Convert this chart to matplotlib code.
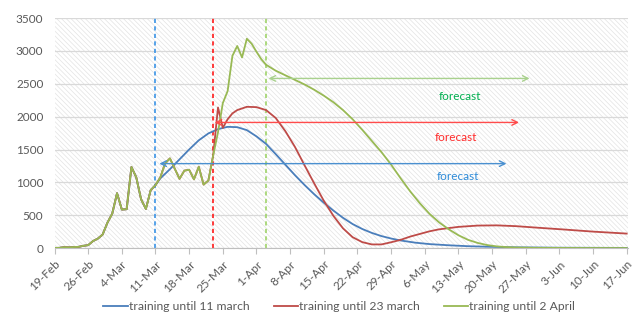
import matplotlib
matplotlib.use("Agg")
import matplotlib.pyplot as plt
import matplotlib.dates as mdates
from matplotlib.patches import Rectangle
import numpy as np

# Daily observed cases from 19-Feb-2020 up to 2-Apr-2020
start = np.datetime64("2020-02-19")
observed = [2, 3, 13, 10, 15, 18, 34, 44, 106, 143, 205,
            385, 523, 835, 586, 591, 1234, 1076, 743, 595, 881, 958,
            1075, 1289, 1365, 1209, 1053, 1178, 1192, 1046, 1237, 966,
            1028, 1411, 1762, 2206, 2389, 2926, 3076, 2901, 3186, 3110,
            2988, 2875]

# Model curves (day offset from 19-Feb, value)
blue_train = 21  # 11 March
blue_days = [22, 24, 26, 28, 30, 32, 34, 36, 38, 40, 42, 44, 46, 48, 50, 52,
             54, 56, 58, 60, 62, 64, 66, 68, 70, 72, 75, 78, 82, 86, 90, 96,
             105, 119]
blue_vals = [1060, 1200, 1350, 1500, 1640, 1745, 1810, 1845, 1840, 1795,
             1700, 1585, 1430, 1270, 1110, 960, 820, 690, 570, 460, 365, 290,
             230, 182, 145, 115, 82, 60, 42, 28, 20, 11, 5, 2]

red_train = 33  # 23 March
red_days = [34, 35, 36, 37, 38, 40, 42, 44, 46, 48, 50, 52, 54, 56, 58, 60,
            62, 64, 66, 68, 70, 72, 74, 76, 78, 80, 84, 88, 92, 96, 100, 106,
            112, 119]
red_vals = [2140, 1830, 1960, 2050, 2100, 2150, 2145, 2100, 1980, 1780, 1540,
            1260, 985, 720, 490, 300, 165, 90, 55, 55, 88, 125, 175, 215, 255,
            285, 322, 342, 345, 333, 312, 282, 250, 220]

green_train = 43  # 2 April
green_days = [44, 46, 48, 50, 52, 54, 56, 58, 60, 62, 64, 66, 68, 70, 72, 74,
              76, 78, 80, 82, 84, 86, 88, 90, 92, 94, 96, 100, 110, 119]
green_vals = [2790, 2700, 2630, 2560, 2490, 2410, 2320, 2220, 2100, 1960, 1800,
              1630, 1460, 1270, 1060, 860, 680, 520, 390, 285, 195, 125, 78,
              45, 25, 14, 8, 3, 1, 0]

labels = ["training until 11 march", "training until 23 march",
          "training until 2 April"]
colors = ["#4a7ebb", "#be4b48", "#98b954"]
guide_colors = ["#3a93e6", "#ff1a1a", "#9fd36a"]
text_colors = ["#2e8bd8", "#ff2b2b", "#00b050"]

# forecast arrows: (start day, end day, level), label: (day, level)
arrows = [(21.8, 94.0, 1285), (33.3, 96.6, 1912), (44.5, 98.8, 2582)]
arrow_colors = ["#4a90d0", "#ff4b4b", "#a9d18e"]
forecast_pos = [(83.9, 1085), (83.5, 1690), (84.4, 2308)]

plt.rcParams["font.family"] = ["Lato", "DejaVu Sans"]
plt.rcParams["hatch.linewidth"] = 0.5


def series(train, days, vals):
    d = list(range(train + 1)) + list(days)
    v = observed[:train + 1] + list(vals)
    return start + np.array(d, dtype="timedelta64[D]"), v


fig = plt.figure(figsize=(6.34, 3.18), dpi=100)
ax = fig.add_axes([0.086, 0.22, 0.905, 0.723])

# hatched background
ax.add_patch(Rectangle((0, 0), 1, 1, transform=ax.transAxes, facecolor="white",
                       edgecolor="#e3e3e3", hatch="\\\\\\\\\\\\\\", linewidth=0,
                       zorder=0))

for v in range(0, 3501, 500):
    ax.axhline(v, color="#d9d9d9", lw=0.9, zorder=1)

for (train, days, vals), lab, c in zip(
        [(blue_train, blue_days, blue_vals), (red_train, red_days, red_vals),
         (green_train, green_days, green_vals)], labels, colors):
    x, y = series(train, days, vals)
    ax.plot(x, y, color=c, lw=1.3, label=lab, zorder=3)

for day, c in zip([21, 33, 44], guide_colors):
    ax.axvline(start + np.timedelta64(day, "D"), color=c, lw=1.2,
               ls=(0, (2.5, 2)), zorder=2)

for (a, b, lvl), c in zip(arrows, arrow_colors):
    xa = mdates.date2num(start) + a
    xb = mdates.date2num(start) + b
    ax.annotate("", xy=(xb, lvl), xytext=(xa, lvl),
                arrowprops=dict(arrowstyle="<->", color=c, lw=1.0,
                                shrinkA=0, shrinkB=0), zorder=4)

for (d, lvl), c in zip(forecast_pos, text_colors):
    ax.text(mdates.date2num(start) + d, lvl, "forecast", color=c,
            fontsize=8.5, ha="center", va="center", zorder=5)

ticks = start + np.arange(0, 120, 7).astype("timedelta64[D]")
ax.set_xticks(ticks)
ax.xaxis.set_major_formatter(mdates.DateFormatter("%-d-%b"))
ax.set_xlim(start, start + np.timedelta64(119, "D") + np.timedelta64(8, "h"))
ax.set_ylim(0, 3500)
ax.set_yticks(range(0, 3501, 500))

for s in ["top", "right", "left"]:
    ax.spines[s].set_visible(False)
ax.spines["bottom"].set_color("#bfbfbf")
ax.tick_params(axis="x", colors="#bfbfbf", length=4, labelcolor="#595959",
               labelsize=8.5)
ax.tick_params(axis="y", length=0, labelcolor="#595959", labelsize=8.5, pad=8)
plt.setp(ax.get_xticklabels(), rotation=45, ha="right", rotation_mode="anchor")

fig.legend(loc="center", bbox_to_anchor=(0.535, 0.037), ncol=3, frameon=False,
           fontsize=8.7, handlelength=2.0, columnspacing=2.0, handletextpad=0.1,
           labelcolor="#595959")

fig.savefig("out.png", dpi=100)
